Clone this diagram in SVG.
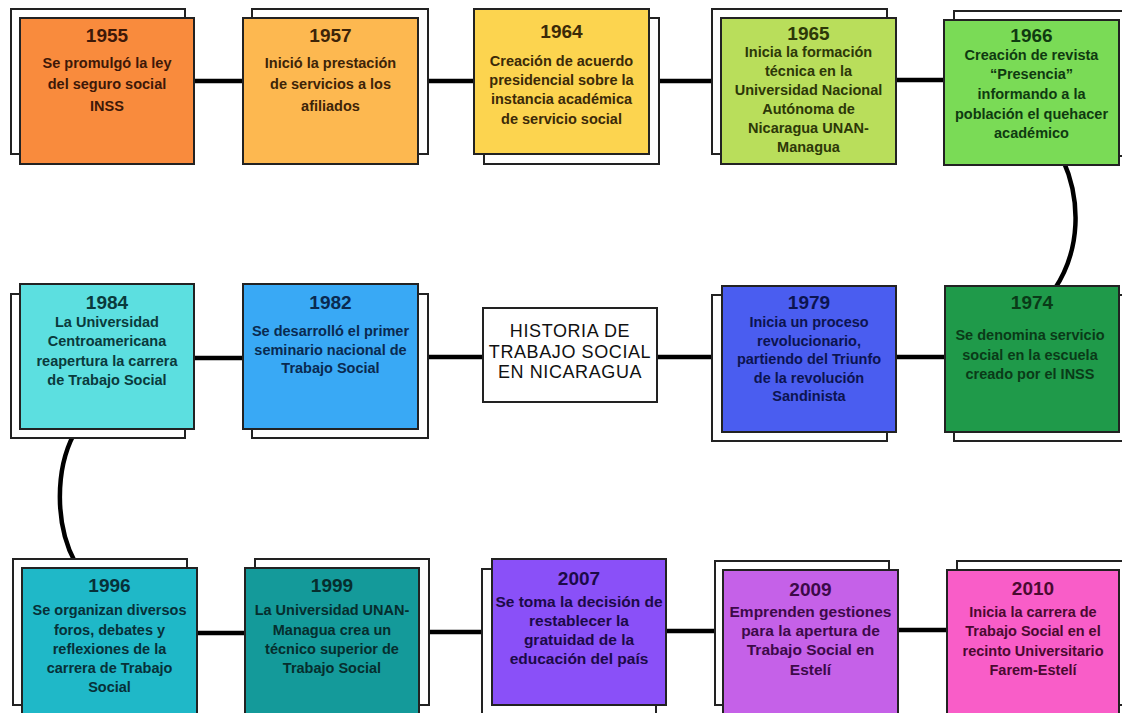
<svg xmlns="http://www.w3.org/2000/svg" width="1122" height="713" viewBox="0 0 1122 713">
<style>
.back{fill:#fff;stroke:#222;stroke-width:2}
.front{stroke:#222;stroke-width:2}
.conn{fill:none;stroke:#000;stroke-width:4.5}
text{font-family:"Liberation Sans",Arial,sans-serif;text-anchor:middle;font-weight:bold}
.yr{font-size:19px}
.bd{font-size:14.5px}
.title{font-size:18px;font-weight:normal;fill:#111;letter-spacing:0.6px}
</style>
<rect width="1122" height="713" fill="#fff"/>
<g id="connectors">
<line class="conn" x1="190" y1="81" x2="250" y2="81"/>
<line class="conn" x1="415" y1="81" x2="480" y2="81"/>
<line class="conn" x1="645" y1="81" x2="725" y2="81"/>
<line class="conn" x1="890" y1="80" x2="950" y2="80"/>
<path class="conn" d="M1063,160 C1081,200 1081,250 1054,290"/>
<line class="conn" x1="890" y1="357" x2="950" y2="357"/>
<line class="conn" x1="655" y1="357" x2="725" y2="357"/>
<line class="conn" x1="415" y1="357" x2="485" y2="357"/>
<line class="conn" x1="190" y1="358" x2="250" y2="358"/>
<path class="conn" d="M74,434 C55,470 55,525 75,562"/>
<line class="conn" x1="192" y1="633" x2="250" y2="633"/>
<line class="conn" x1="415" y1="632" x2="495" y2="632"/>
<line class="conn" x1="660" y1="631" x2="725" y2="631"/>
<line class="conn" x1="893" y1="630" x2="952" y2="630"/>
</g>
<g id="n1955">
<rect class="back" x="11" y="9" width="174" height="145"/>
<rect class="front" x="20" y="18" width="174" height="146" fill="#F98B3D"/>
<g fill="#3d1808"><text class="yr" x="107" y="42">1955</text>
<text class="bd" x="107" y="68">Se promulgó la ley</text><text class="bd" x="107" y="89">del seguro social</text><text class="bd" x="107" y="111">INSS</text></g>
</g>
<g id="n1957">
<rect class="back" x="252" y="9" width="176" height="145"/>
<rect class="front" x="243" y="18" width="175" height="146" fill="#FDB850"/>
<g fill="#3d2408"><text class="yr" x="330.5" y="42">1957</text>
<text class="bd" x="330.5" y="68">Inició la prestación</text><text class="bd" x="330.5" y="89">de servicios a los</text><text class="bd" x="330.5" y="111">afiliados</text></g>
</g>
<g id="n1964">
<rect class="back" x="484" y="18" width="175" height="146"/>
<rect class="front" x="474" y="9" width="175" height="145" fill="#FCD44F"/>
<g fill="#3b2a08"><text class="yr" x="561.5" y="38">1964</text>
<text class="bd" x="561.5" y="66">Creación de acuerdo</text><text class="bd" x="561.5" y="85">presidencial sobre la</text><text class="bd" x="561.5" y="104">instancia académica</text><text class="bd" x="561.5" y="124">de servicio social</text></g>
</g>
<g id="n1965">
<rect class="back" x="712" y="9" width="175" height="145"/>
<rect class="front" x="721" y="18" width="175" height="146" fill="#B9DE5B"/>
<g fill="#2d3808"><text class="yr" x="808.5" y="40">1965</text>
<text class="bd" x="808.5" y="57">Inicia la formación</text><text class="bd" x="808.5" y="76">técnica en la</text><text class="bd" x="808.5" y="95">Universidad Nacional</text><text class="bd" x="808.5" y="114">Autónoma de</text><text class="bd" x="808.5" y="133">Nicaragua UNAN-</text><text class="bd" x="808.5" y="152">Managua</text></g>
</g>
<g id="n1966">
<rect class="back" x="954" y="11" width="175" height="145"/>
<rect class="front" x="944" y="20" width="175" height="145" fill="#7ADB56"/>
<g fill="#0f3a10"><text class="yr" x="1031.5" y="42">1966</text>
<text class="bd" x="1031.5" y="60">Creación de revista</text><text class="bd" x="1031.5" y="79">“Presencia”</text><text class="bd" x="1031.5" y="99">informando a la</text><text class="bd" x="1031.5" y="119">población el quehacer</text><text class="bd" x="1031.5" y="138">académico</text></g>
</g>
<g id="n1984">
<rect class="back" x="11" y="294" width="174" height="144"/>
<rect class="front" x="20" y="284" width="174" height="145" fill="#5CDFE0"/>
<g fill="#0a3a3c"><text class="yr" x="107" y="309">1984</text>
<text class="bd" x="107" y="327">La Universidad</text><text class="bd" x="107" y="346">Centroamericana</text><text class="bd" x="107" y="366">reapertura la carrera</text><text class="bd" x="107" y="385">de Trabajo Social</text></g>
</g>
<g id="n1982">
<rect class="back" x="252" y="294" width="176" height="144"/>
<rect class="front" x="243" y="284" width="175" height="145" fill="#39A9F5"/>
<g fill="#0a2a50"><text class="yr" x="330.5" y="309">1982</text>
<text class="bd" x="330.5" y="336">Se desarrolló el primer</text><text class="bd" x="330.5" y="355">seminario nacional de</text><text class="bd" x="330.5" y="373">Trabajo Social</text></g>
</g>
<g id="title">
<rect x="483" y="308" width="174" height="94" fill="#fff" stroke="#222" stroke-width="2"/>
<text class="title" x="570" y="337">HISTORIA DE</text>
<text class="title" x="570" y="357.5">TRABAJO SOCIAL</text>
<text class="title" x="570" y="378">EN NICARAGUA</text>
</g>
<g id="n1979">
<rect class="back" x="712" y="295" width="175" height="146"/>
<rect class="front" x="722" y="286" width="174" height="146" fill="#4A5DF0"/>
<g fill="#0c1450"><text class="yr" x="809" y="309">1979</text>
<text class="bd" x="809" y="327">Inicia un proceso</text><text class="bd" x="809" y="345.5">revolucionario,</text><text class="bd" x="809" y="364">partiendo del Triunfo</text><text class="bd" x="809" y="382.5">de la revolución</text><text class="bd" x="809" y="401">Sandinista</text></g>
</g>
<g id="n1974">
<rect class="back" x="954" y="295" width="175" height="146"/>
<rect class="front" x="945" y="286" width="174" height="146" fill="#1F9A4A"/>
<g fill="#0a3a18"><text class="yr" x="1032" y="309">1974</text>
<text class="bd" x="1030" y="340">Se denomina servicio</text><text class="bd" x="1030" y="360">social en la escuela</text><text class="bd" x="1030" y="379">creado por el INSS</text></g>
</g>
<g id="n1996">
<rect class="back" x="13" y="559" width="174" height="146"/>
<rect class="front" x="22" y="568" width="175" height="147" fill="#1FB8C8"/>
<g fill="#073038"><text class="yr" x="109.5" y="592">1996</text>
<text class="bd" x="109.5" y="615">Se organizan diversos</text><text class="bd" x="109.5" y="635">foros, debates y</text><text class="bd" x="109.5" y="654">reflexiones de la</text><text class="bd" x="109.5" y="673">carrera de Trabajo</text><text class="bd" x="109.5" y="692">Social</text></g>
</g>
<g id="n1999">
<rect class="back" x="255" y="559" width="174" height="146"/>
<rect class="front" x="245" y="568" width="174" height="147" fill="#149A9A"/>
<g fill="#062e2e"><text class="yr" x="332" y="592">1999</text>
<text class="bd" x="332" y="615">La Universidad UNAN-</text><text class="bd" x="332" y="635">Managua crea un</text><text class="bd" x="332" y="654">técnico superior de</text><text class="bd" x="332" y="673">Trabajo Social</text></g>
</g>
<g id="n2007">
<rect class="back" x="482" y="569" width="174" height="146"/>
<rect class="front" x="492" y="559" width="174" height="146" fill="#8A50F8"/>
<g fill="#1c0a48"><text class="yr" x="579" y="585">2007</text>
<g style="font-size:15.5px"><text x="579" y="607">Se toma la decisión de</text><text x="579" y="626">restablecer la</text><text x="579" y="645">gratuidad de la</text><text x="579" y="664">educación del país</text></g></g>
</g>
<g id="n2009">
<rect class="back" x="715" y="561" width="174" height="144"/>
<rect class="front" x="723" y="570" width="175" height="145" fill="#C561E8"/>
<g fill="#3c0a48"><text class="yr" x="810.5" y="596">2009</text>
<g style="font-size:15.5px"><text x="810.5" y="617">Emprenden gestiones</text><text x="810.5" y="636">para la apertura de</text><text x="810.5" y="655">Trabajo Social en</text><text x="810.5" y="675">Estelí</text></g></g>
</g>
<g id="n2010">
<rect class="back" x="957" y="561" width="174" height="144"/>
<rect class="front" x="947" y="570" width="172" height="145" fill="#F95DC8"/>
<g fill="#4a0a30"><text class="yr" x="1033" y="595">2010</text>
<text class="bd" x="1033" y="617">Inicia la carrera de</text><text class="bd" x="1033" y="636">Trabajo Social en el</text><text class="bd" x="1033" y="656">recinto Universitario</text><text class="bd" x="1033" y="675">Farem-Estelí</text></g>
</g>
</svg>
